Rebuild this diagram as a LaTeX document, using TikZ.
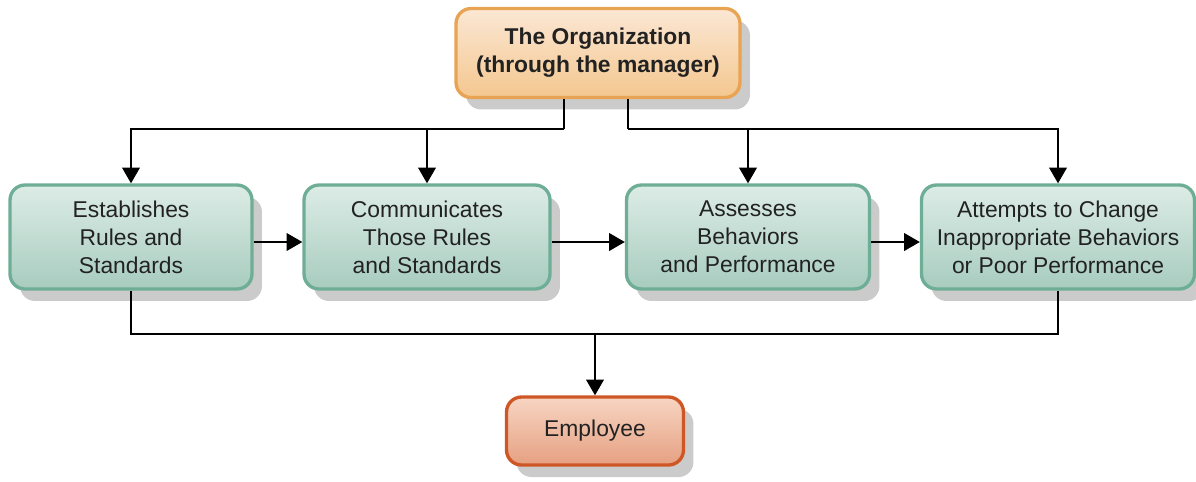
\documentclass[tikz,border=0pt]{standalone}
\usepackage{fontspec}
\setmainfont{Liberation Sans}
\usetikzlibrary{arrows.meta,positioning,shadows}

\definecolor{grnline}{HTML}{6FAE96}
\definecolor{grntop}{HTML}{DCECE6}
\definecolor{grnbot}{HTML}{A8CCBF}
\definecolor{orgline}{HTML}{E8A452}
\definecolor{orgtop}{HTML}{FBE7D4}
\definecolor{orgbot}{HTML}{F4C78F}
\definecolor{empline}{HTML}{CF5726}
\definecolor{emptop}{HTML}{F7D5C3}
\definecolor{empbot}{HTML}{E6A081}
\definecolor{shade}{HTML}{CBCBCB}
\definecolor{txt}{HTML}{222222}

\begin{document}
\begin{tikzpicture}[x=0.02cm, y=-0.02cm,
    box/.style={line width=1.9pt, rounded corners=0.3cm, inner sep=0pt, align=center,
      text=txt, font=\fontsize{13}{16}\selectfont,
      drop shadow={shadow xshift=0.2cm, shadow yshift=-0.24cm, fill=shade, opacity=1}},
    stage/.style={box, draw=grnline, top color=grntop, middle color=grntop!80!grnbot, bottom color=grnbot, minimum height=2.08cm},
    source/.style={box, draw=orgline, top color=orgtop, middle color=orgtop!80!orgbot, bottom color=orgbot, font=\fontsize{13}{16}\selectfont\bfseries},
    target/.style={box, draw=empline, top color=emptop, middle color=emptop!80!empbot, bottom color=empbot},
    arr/.style={-{Triangle[length=9pt, width=10pt]}, line width=1.3pt},
    wire/.style={line width=1.3pt},
  ]
  \useasboundingbox (0,0) rectangle (1196,481);

  % source on top, employee at the bottom
  \node[source, minimum width=5.68cm, minimum height=1.78cm] (org) at (598,53) {The Organization\\(through the manager)};
  \node[target, minimum width=3.54cm, minimum height=1.36cm] (emp) at (595,431) {Employee};

  % the four steps, left to right
  \node[stage, minimum width=4.84cm] (est) at (131,237) {Establishes\\Rules and\\Standards};
  \node[stage, minimum width=4.92cm] (com) at (427,237) {Communicates\\Those Rules\\and Standards};
  \node[stage, minimum width=4.86cm] (ass) at (748,237) {Assesses\\Behaviors\\and Performance};
  \node[stage, minimum width=5.46cm] (att) at (1058,237) {Attempts to Change\\Inappropriate Behaviors\\or Poor Performance};

  % bus points
  \coordinate (busL) at (564,129);
  \coordinate (busR) at (628,129);
  \coordinate (busB) at (596,334);

  % organization down to the steps
  \draw[wire] (org.south -| busL) -- (busL);
  \draw[wire] (org.south -| busR) -- (busR);
  \draw[arr] (busL) -| (est.north);
  \draw[arr] (busL) -| (com.north);
  \draw[arr] (busR) -| (ass.north);
  \draw[arr] (busR) -| (att.north);

  % step to step
  \draw[arr] ([yshift=-0.1cm]est.east) -- ([yshift=-0.1cm]com.west);
  \draw[arr] ([yshift=-0.1cm]com.east) -- ([yshift=-0.1cm]ass.west);
  \draw[arr] ([yshift=-0.1cm]ass.east) -- ([yshift=-0.1cm]att.west);

  % steps down to the employee
  \draw[wire] (est.south) |- (busB) -| (att.south);
  \draw[arr] (emp.north |- busB) -- (emp.north);
\end{tikzpicture}
\end{document}
